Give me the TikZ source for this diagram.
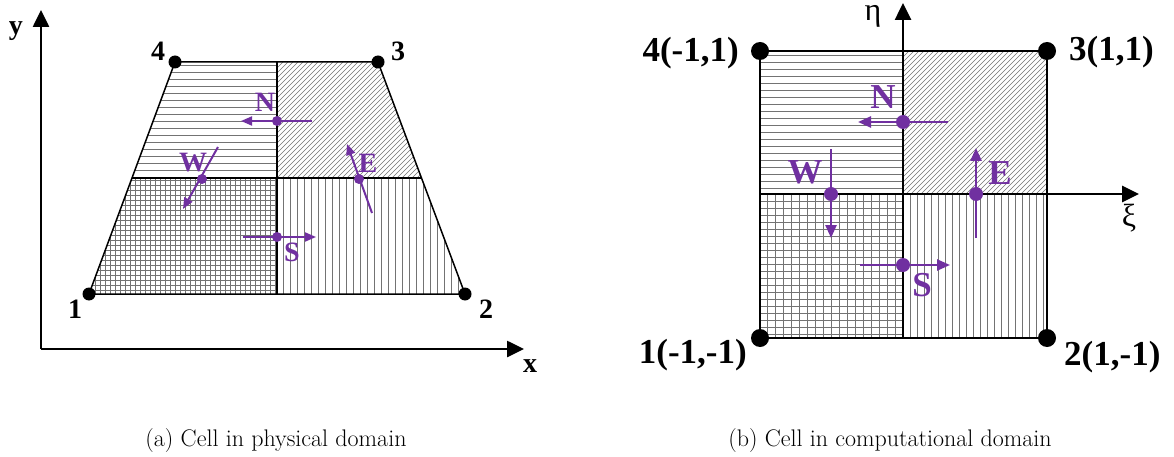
\documentclass[tikz,border=0pt]{standalone}
\usepackage{fontspec}
\newfontfamily\tnr{Liberation Serif}
\usetikzlibrary{arrows.meta}
\definecolor{ppl}{HTML}{7030A0}
\tikzset{
  axisline/.style={line width=2.6pt,-{Triangle[length=17pt,width=16pt]}},
  edgeline/.style={line width=1.5pt},
  divline/.style={line width=1.1pt},
  hatch/.style={draw=black!55,line width=0.6pt},
  parrowA/.style={ppl,line width=2pt,-{Triangle[length=11pt,width=9pt]}},
  parrowB/.style={ppl,line width=2.4pt,-{Triangle[length=13pt,width=11pt]}},
  blabA/.style={font=\tnr\bfseries\fontsize{28}{28}\selectfont,inner sep=0pt},
  blabB/.style={font=\tnr\bfseries\fontsize{35}{35}\selectfont,inner sep=0pt},
  plabA/.style={blabA,text=ppl},
  plabB/.style={blabB,text=ppl},
  greek/.style={font=\tnr\fontsize{32}{32}\selectfont,inner sep=0pt,anchor=base},
  captext/.style={font=\fontsize{24}{28}\selectfont,inner sep=0pt,anchor=base}
}
\begin{document}
\begin{tikzpicture}[x=1pt,y=-1pt]
\useasboundingbox (0,0) rectangle (1174,457);
% ================= LEFT =================
\coordinate (p1) at (89,294);
\coordinate (p2) at (465,294);
\coordinate (p3) at (378,62);
\coordinate (p4) at (175,62);
\coordinate (tm) at (277,62);
\coordinate (bm) at (277,294);
\coordinate (lm) at (132,178);
\coordinate (rm) at (421.5,178);
\coordinate (cc) at (277,178);
\coordinate (ao) at (41,349);
\coordinate (ay) at (41,10);
\coordinate (ax) at (524,349);
% hatching
\begin{scope}
  \clip (p4) -- (tm) -- (cc) -- (lm) -- cycle;
  \foreach \y in {65,72,...,180} \draw[hatch] (100,\y) -- (300,\y);
\end{scope}
\begin{scope}
  \clip (tm) -- (p3) -- (rm) -- (cc) -- cycle;
  \foreach \x in {120,125,...,440} \draw[hatch] (\x,200) -- ++(150,-150);
\end{scope}
\begin{scope}
  \clip (lm) -- (cc) -- (bm) -- (p1) -- cycle;
  \foreach \x in {90,95,...,280} \draw[hatch] (\x,170) -- (\x,300);
  \foreach \y in {180,185,...,295} \draw[hatch] (80,\y) -- (290,\y);
\end{scope}
\begin{scope}
  \clip (cc) -- (rm) -- (p2) -- (bm) -- cycle;
  \foreach \x in {283,290,...,470} \draw[hatch] (\x,170) -- (\x,300);
\end{scope}
% outline
\draw[edgeline] (p1) -- (p2) -- (p3) -- (p4) -- cycle;
\draw[divline] (tm) -- (bm);
\draw[divline] (lm) -- (rm);
% axes
\draw[axisline] (ao) -- (ay);
\draw[axisline] (ao) -- (ax);
\node[blabA] (ly) at (16,31) {y};
\node[blabA] (lx) at (530,366) {x};
% corner dots
\foreach \c in {p1,p2,p3,p4} \fill (\c) circle (6.5);
\node[blabA] (l1) at (75,309) {1};
\node[blabA] (l2) at (486,309) {2};
\node[blabA] (l3) at (398,51) {3};
\node[blabA] (l4) at (158,51) {4};
% purple arrows
\coordinate (nA) at (277,121); \coordinate (nA1) at (312,121); \coordinate (nA2) at (241,121);
\coordinate (wA) at (202,179); \coordinate (wA1) at (218,147); \coordinate (wA2) at (183,209);
\coordinate (eA) at (359,179); \coordinate (eA1) at (372,213); \coordinate (eA2) at (347,144);
\coordinate (sA) at (277,237); \coordinate (sA1) at (243,237); \coordinate (sA2) at (316,237);
\draw[parrowA] (nA1) -- (nA2);
\draw[parrowA] (wA1) -- (wA2);
\draw[parrowA] (eA1) -- (eA2);
\draw[parrowA] (sA1) -- (sA2);
\foreach \c in {nA,wA,eA,sA} \fill[ppl] (\c) circle (5);
\node[plabA] (tnA) at (265,102) {N};
\node[plabA] (twA) at (193,163) {W};
\node[plabA] (teA) at (368,163) {E};
\node[plabA] (tsA) at (292,252) {S};
% ================= RIGHT =================
\coordinate (q1) at (760,338);
\coordinate (q2) at (1047,338);
\coordinate (q3) at (1047,51);
\coordinate (q4) at (760,51);
\coordinate (qc) at (903,194);
\coordinate (qt) at (903,51);
\coordinate (qb) at (903,338);
\coordinate (ql) at (760,194);
\coordinate (qr) at (1047,194);
\coordinate (eta) at (903,3);
\coordinate (xi) at (1139,194);
\begin{scope}
  \clip (q4) rectangle (qc);
  \foreach \y in {55,62,...,195} \draw[hatch] (750,\y) -- (910,\y);
\end{scope}
\begin{scope}
  \clip (qt) rectangle (qr);
  \foreach \x in {740,745,...,1050} \draw[hatch] (\x,200) -- ++(150,-150);
\end{scope}
\begin{scope}
  \clip (ql) rectangle (qb);
  \foreach \x in {767,775,...,903} \draw[hatch] (\x,190) -- (\x,340);
  \foreach \y in {201,208,...,338} \draw[hatch] (755,\y) -- (905,\y);
\end{scope}
\begin{scope}
  \clip (qc) rectangle (q2);
  \foreach \x in {910,917,...,1047} \draw[hatch] (\x,190) -- (\x,340);
\end{scope}
\draw[edgeline] (q1) -- (q2) -- (q3) -- (q4) -- cycle;
\draw[divline] (ql) -- (qc);
\draw[divline] (qc) -- (qb);
\draw[axisline] (qc) -- (eta);
\draw[axisline] (qc) -- (xi);
\node[greek] (teta) at (873,21) {η};
\node[greek] (txi) at (1129,226) {ξ};
\foreach \c in {q1,q2,q3,q4} \fill (\c) circle (9);
\node[blabB,anchor=east] (c4) at (739,53) {4(-1,1)};
\node[blabB,anchor=east] (c1) at (747,355) {1(-1,-1)};
\node[blabB,anchor=west] (c3) at (1069,52) {3(1,1)};
\node[blabB,anchor=west] (c2) at (1064,357) {2(1,-1)};
\coordinate (nB) at (903,122); \coordinate (nB1) at (948,122); \coordinate (nB2) at (858,122);
\coordinate (wB) at (831,194); \coordinate (wB1) at (831,149); \coordinate (wB2) at (831,238);
\coordinate (eB) at (976,194); \coordinate (eB1) at (976,238); \coordinate (eB2) at (976,148);
\coordinate (sB) at (903,265); \coordinate (sB1) at (860,265); \coordinate (sB2) at (950,265);
\draw[parrowB] (nB1) -- (nB2);
\draw[parrowB] (wB1) -- (wB2);
\draw[parrowB] (eB1) -- (eB2);
\draw[parrowB] (sB1) -- (sB2);
\foreach \c in {nB,wB,eB,sB} \fill[ppl] (\c) circle (7);
\node[plabB] (tnB) at (883,97) {N};
\node[plabB] (twB) at (805,172) {W};
\node[plabB] (teB) at (1000,173) {E};
\node[plabB] (tsB) at (922,285) {S};
% captions
\node[captext] (capa) at (276,446) {(a) Cell in physical domain};
\node[captext] (capb) at (890,446) {(b) Cell in computational domain};
\end{tikzpicture}
\end{document}
